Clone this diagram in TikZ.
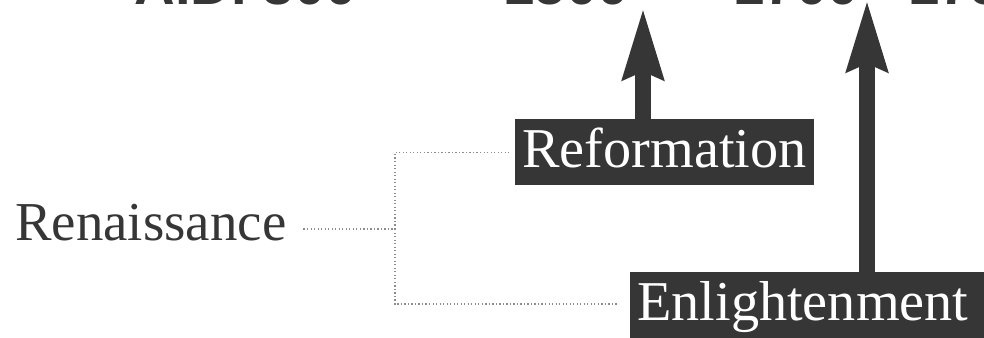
\documentclass[tikz,border=0pt]{standalone}
\usepackage{fontspec}
\setmainfont{Liberation Serif}
\newfontfamily\yearfont{Liberation Sans}
\usetikzlibrary{arrows.meta}
\definecolor{darkbox}{HTML}{363636}
\definecolor{dotgray}{HTML}{8C8C8C}

\begin{document}
\begin{tikzpicture}[x=0.025cm,y=-0.025cm]
	% Styles
	\tikzset{eventbox/.style={fill=darkbox, text=white, font=\fontsize{40}{40}\selectfont, text height=29pt, text depth=8pt, inner xsep=5pt, inner ysep=5pt, anchor=north west}}
	\tikzset{link/.style={dotgray, line width=1.1pt, dash pattern=on 0.9pt off 1.6pt}}
	\tikzset{bigarrow/.style={darkbox, line width=10.7pt, -{Stealth[length=50pt, width=28pt, inset=5pt]}}}
	\tikzset{year/.style={text=darkbox, font=\yearfont\bfseries\fontsize{40}{40}\selectfont, inner sep=0pt}}

	\clip (0,0) rectangle (984,337);

	% Years along the top
	\node [year, anchor=base east] (y300) at (357,4) {A.D. 300};
	\node [year, anchor=base east] (y1500) at (629,4) {1500};
	\node [year, anchor=base east] (y1700) at (859,4) {1700};
	\node [year, anchor=base west] (y1750) at (908,4) {1750};

	% Events
	\node [eventbox] (ref) at (515,119) {Reformation};
	\node [eventbox, text depth=14pt, text width=250pt, align=left] (enl) at (630,272) {Enlightenment};
	\node [text=darkbox, font=\fontsize{39}{39}\selectfont, inner sep=0pt, anchor=base west] (ren) at (15,240) {Renaissance};

	% Dotted links
	\coordinate (jn) at (395,229);
	\draw [link, shorten <=12pt] (ren.east |- jn) -- (jn);
	\draw [link, shorten <=4pt] (ref.west) -| (jn);
	\draw [link, shorten >=8pt] (jn) |- (enl.west |- 0,304);

	% Arrows up to the years
	\coordinate (t1) at (643,8);
	\coordinate (t2) at (867,0);
	\draw [bigarrow] (ref.north -| t1) -- (t1);
	\draw [bigarrow] (enl.north -| t2) -- (t2);

\end{tikzpicture}
\end{document}
